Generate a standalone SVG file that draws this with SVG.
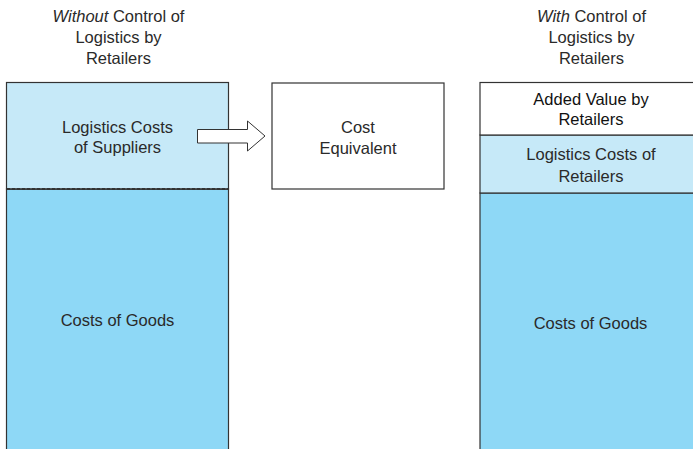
<svg xmlns="http://www.w3.org/2000/svg" width="693" height="449" viewBox="0 0 693 449">
<style>
text{font-family:"Liberation Sans",Arial,sans-serif;font-size:16.5px;fill:#2a2a2a;text-anchor:middle}
.hd{font-size:16.5px}
.box{stroke:#333;stroke-width:1.2}
.light{fill:#c6e9f8}
.dark{fill:#8ed8f6}
</style>
<rect width="693" height="449" fill="#fff"/>
<g id="header-left">
<text class="hd" x="118.5" y="22"><tspan font-style="italic">Without</tspan> Control of</text>
<text class="hd" x="118.5" y="43">Logistics by</text>
<text class="hd" x="118.5" y="63.5">Retailers</text>
</g>
<g id="header-right">
<text class="hd" x="591.5" y="22"><tspan font-style="italic">With</tspan> Control of</text>
<text class="hd" x="591.5" y="43">Logistics by</text>
<text class="hd" x="591.5" y="63.5">Retailers</text>
</g>
<g id="left-goods">
<rect class="box dark" x="6.5" y="189" width="222" height="270"/>
<text x="117.5" y="326">Costs of Goods</text>
</g>
<g id="left-logistics">
<rect class="box light" x="6.5" y="82.5" width="222" height="106.5"/>
<line x1="6.5" y1="189" x2="228.5" y2="189" stroke="#333" stroke-width="1.8" stroke-dasharray="4 1"/>
<text x="117.5" y="133">Logistics Costs</text>
<text x="117.5" y="153">of Suppliers</text>
</g>
<g id="cost-equivalent">
<rect class="box" fill="#fff" x="272" y="83" width="172" height="106"/>
<text x="358" y="133">Cost</text>
<text x="358" y="154">Equivalent</text>
</g>
<g id="right-goods">
<rect class="box dark" x="480" y="193" width="224" height="270"/>
<text x="590.5" y="328.5">Costs of Goods</text>
</g>
<g id="right-logistics">
<rect class="box light" x="480" y="135" width="224" height="58"/>
<text x="591" y="160">Logistics Costs of</text>
<text x="591" y="181.5">Retailers</text>
</g>
<g id="right-added">
<rect class="box" fill="#fff" x="480" y="82.5" width="224" height="52.5"/>
<text x="591" y="105" style="fill:#111">Added Value by</text>
<text x="591" y="125" style="fill:#111">Retailers</text>
</g>
<g id="connectors">
<polygon points="197.5,129.5 247.5,129.5 247.5,121 265,136 247.5,151 247.5,143 197.5,143" fill="#fff" stroke="#333" stroke-width="1"/>
</g>
</svg>
